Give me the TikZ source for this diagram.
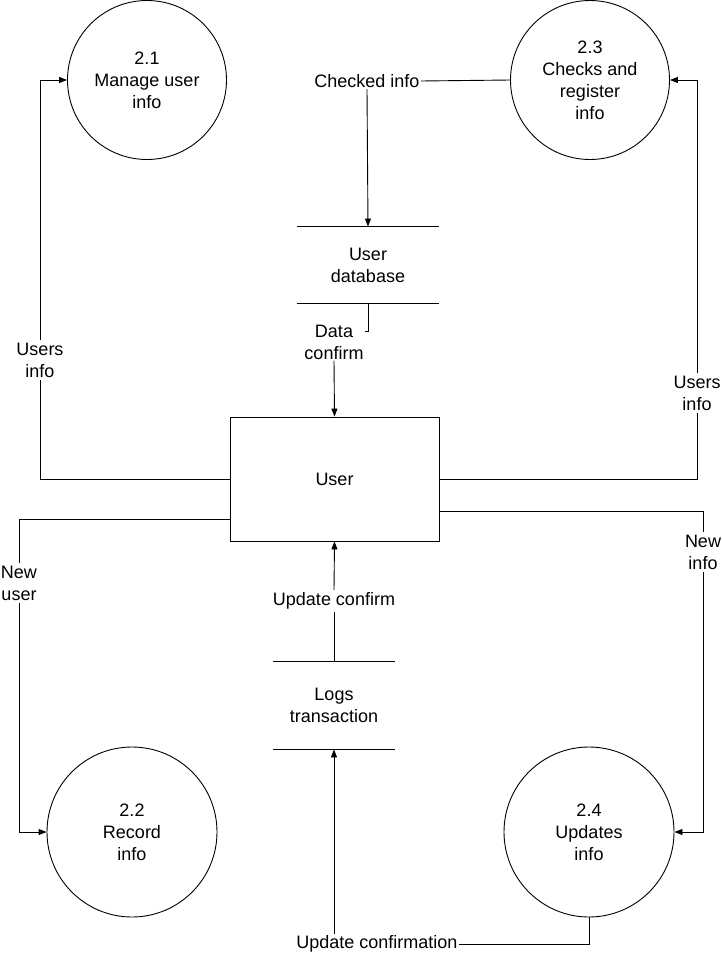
\documentclass[tikz,border=0pt]{standalone}
\usepackage{fontspec}
\setmainfont{Liberation Sans}
\usetikzlibrary{arrows.meta}
\tikzset{
  proc/.style={draw,circle,minimum size=#1,inner sep=0pt,align=center},
  lbl/.style={align=center,inner sep=2pt},
  store/.style={minimum width=#1,inner sep=0pt,align=center}
}
\begin{document}
\begin{tikzpicture}[>={Stealth[length=8pt,width=6pt,inset=0pt]},x=1pt,y=-1pt,line width=0.9pt,font=\fontsize{18}{22}\selectfont]
            \useasboundingbox (0,0) rectangle (721,956);
            % processes
            \node[proc=159] (c21) at (147,80) {2.1\\Manage user\\info};
            \node[proc=159] (c23) at (590,80) {2.3\\Checks and\\register\\info};
            \node[proc=170] (c22) at (132,832) {2.2\\Record\\info};
            \node[proc=170] (c24) at (589,832) {2.4\\Updates\\info};
            % entity and stores
            \node[draw,minimum width=209,minimum height=124] (user) at (334.5,479) {User};
            \node[store=142,minimum height=76] (db) at (368,265) {User\\database};
            \draw (db.north west) -- (db.north east) (db.south west) -- (db.south east);
            \node[store=122,minimum height=87] (logs) at (334,705.5) {Logs\\transaction};
            \draw (logs.north west) -- (logs.north east) (logs.south west) -- (logs.south east);
            % flow labels
            \node[lbl,inner sep=1pt] (ci) at (367,81) {Checked info};
            \node[lbl,inner sep=1pt] (dc) at (334,342) {Data\\confirm};
            \node[lbl] (uil) at (40,360) {Users\\info};
            \node[lbl] (uir) at (697,393) {Users\\info};
            \node[lbl] (nul) at (19,583) {New\\user};
            \node[lbl] (nil) at (703,552) {New\\info};
            \node[lbl] (ucf) at (334,601) {Update confirm};
            \node[lbl,inner sep=1pt] (ucn) at (377,944) {Update confirmation};
            % flows
            \draw (c23.west) -- (ci.east);
            \draw[->] (ci.south) -- (db.north);
            \draw (db.south) |- ([yshift=11pt]dc.east);
            \draw[->] (dc.south) -- (user.north);
            \draw (user.west) -| (uil.south);
            \draw[->] (uil.north) |- (c21.west);
            \draw (user.east) -| (uir.south);
            \draw[->] (uir.north) |- (c23.east);
            \draw ([yshift=-40pt]user.west) -| (nul.north);
            \draw[->] (nul.south) |- (c22.west);
            \draw ([yshift=-32pt]user.east) -| (nil.north);
            \draw[->] (nil.south) |- (c24.east);
            \draw (logs.north) -- (ucf.south);
            \draw[->] (ucf.north) -- (user.south);
            \draw (c24.south) |- (ucn.east);
            \draw[->] (ucn.north -| logs.south) -- (logs.south);
        \end{tikzpicture}
\end{document}
